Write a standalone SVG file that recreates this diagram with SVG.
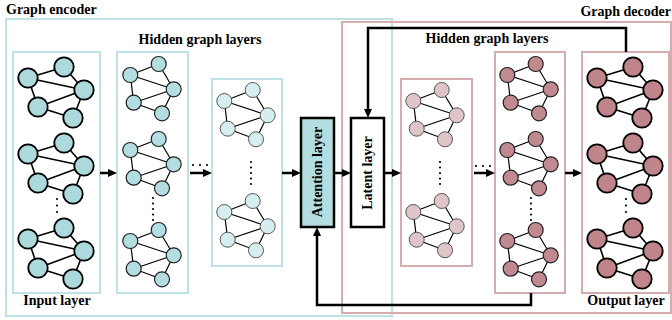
<svg xmlns="http://www.w3.org/2000/svg" xmlns:xlink="http://www.w3.org/1999/xlink" width="672" height="320" viewBox="0 0 672 320">
<style>
.t{font-family:"Liberation Serif","Times New Roman",serif;font-weight:bold;font-size:14px;fill:#000}
.bc{fill:none;stroke:#bfe2e5;stroke-width:2}
.bp{fill:none;stroke:#d5adb1;stroke-width:2}
.in{fill:#acd9dc;stroke:#000;stroke-width:1.8}
.h1e{fill:#b3dde0;stroke:#222;stroke-width:1.2}
.h2e{fill:#d6eef0;stroke:#555;stroke-width:1}
.h1d{fill:#dfc4c8;stroke:#555;stroke-width:1}
.h2d{fill:#c08a90;stroke:#222;stroke-width:1.2}
.out{fill:#bf858a;stroke:#000;stroke-width:1.8}
.ar{fill:none;stroke:#000;stroke-width:2.5}
.dot{fill:#000}
</style>
<defs>
<marker id="ah" markerUnits="userSpaceOnUse" viewBox="0 0 9 8" markerWidth="9" markerHeight="8" refX="4" refY="4" orient="auto">
<path d="M0,0 L9,4 L0,8 z" fill="#000"/>
</marker>
<g id="gi">
<g stroke="#000" stroke-width="1.6">
<line x1="28" y1="78" x2="64" y2="67"/>
<line x1="28" y1="78" x2="84" y2="90"/>
<line x1="28" y1="78" x2="38" y2="107"/>
<line x1="64" y1="67" x2="84" y2="90"/>
<line x1="84" y1="90" x2="38" y2="107"/>
<line x1="38" y1="107" x2="73" y2="118"/>
<line x1="84" y1="90" x2="73" y2="118"/>
</g>
<circle cx="64" cy="67" r="9.7"/>
<circle cx="28" cy="78" r="9.7"/>
<circle cx="84" cy="90" r="9.7"/>
<circle cx="38" cy="107" r="9.7"/>
<circle cx="73" cy="118" r="9.7"/>
</g>
<g id="gh">
<g stroke="#000" stroke-width="1.2">
<line x1="130.3" y1="75" x2="158.7" y2="64"/>
<line x1="130.3" y1="75" x2="173.7" y2="89.3"/>
<line x1="130.3" y1="75" x2="133.7" y2="102.7"/>
<line x1="158.7" y1="64" x2="173.7" y2="89.3"/>
<line x1="173.7" y1="89.3" x2="133.7" y2="102.7"/>
<line x1="133.7" y1="102.7" x2="162" y2="113.3"/>
<line x1="173.7" y1="89.3" x2="162" y2="113.3"/>
</g>
<circle cx="158.7" cy="64" r="7.5"/>
<circle cx="130.3" cy="75" r="7.5"/>
<circle cx="173.7" cy="89.3" r="7.5"/>
<circle cx="133.7" cy="102.7" r="7.5"/>
<circle cx="162" cy="113.3" r="7.5"/>
</g>
<g id="d3">
<circle cx="0" cy="0" r="1.1"/><circle cx="0" cy="6.5" r="1.1"/><circle cx="0" cy="13" r="1.1"/>
</g>
<g id="d5">
<circle cx="0" cy="0" r="1.1"/><circle cx="0" cy="5.5" r="1.1"/><circle cx="0" cy="11" r="1.1"/><circle cx="0" cy="16.5" r="1.1"/><circle cx="0" cy="22" r="1.1"/>
</g>
<g id="h3">
<circle cx="0" cy="0" r="1.1"/><circle cx="7" cy="0" r="1.1"/><circle cx="14" cy="0" r="1.1"/>
</g>
</defs>

<g id="encoder">
<rect class="bc" x="6" y="19" width="386" height="297"/>
<text class="t" x="6" y="14">Graph encoder</text>
<text class="t" x="200" y="44" text-anchor="middle">Hidden graph layers</text>
</g>
<g id="decoder">
<rect class="bp" x="342" y="22" width="329" height="291"/>
<text class="t" x="671" y="16" text-anchor="end">Graph decoder</text>
<text class="t" x="487" y="43" text-anchor="middle">Hidden graph layers</text>
</g>

<g id="input-layer">
<rect class="bc" x="13" y="52" width="87" height="241"/>
<use xlink:href="#gi" class="in"/>
<use xlink:href="#gi" class="in" y="76"/>
<use xlink:href="#gi" class="in" y="161"/>
<use xlink:href="#d3" class="dot" x="57" y="199"/>
<text class="t" x="57" y="305" text-anchor="middle">Input layer</text>
</g>
<g id="enc-hidden-1">
<rect class="bc" x="117" y="52" width="71" height="241"/>
<use xlink:href="#gh" class="h1e"/>
<use xlink:href="#gh" class="h1e" y="75"/>
<use xlink:href="#gh" class="h1e" y="166"/>
<use xlink:href="#d5" class="dot" x="153" y="198"/>
</g>
<g id="enc-hidden-2">
<rect class="bc" x="212" y="79" width="70" height="187"/>
<use xlink:href="#gh" class="h2e" x="94" y="26"/>
<use xlink:href="#gh" class="h2e" x="94" y="137"/>
<use xlink:href="#d5" class="dot" x="251" y="162"/>
</g>
<g id="attention-layer">
<rect x="301" y="118" width="33" height="109" fill="#b3dde0" stroke="#000" stroke-width="2.5"/>
<text class="t" transform="translate(321.5,172) rotate(-90)" text-anchor="middle">Attention layer</text>
</g>
<g id="latent-layer">
<rect x="351" y="118" width="33" height="109" fill="#fff" stroke="#000" stroke-width="2.5"/>
<text class="t" transform="translate(371.5,173) rotate(-90)" text-anchor="middle">Latent layer</text>
</g>
<g id="dec-hidden-1">
<rect class="bp" x="401" y="79" width="71" height="187"/>
<use xlink:href="#gh" class="h1d" x="283" y="26"/>
<use xlink:href="#gh" class="h1d" x="283" y="137"/>
<use xlink:href="#d5" class="dot" x="440" y="162"/>
</g>
<g id="dec-hidden-2">
<rect class="bp" x="495" y="52" width="70" height="241"/>
<use xlink:href="#gh" class="h2d" x="377"/>
<use xlink:href="#gh" class="h2d" x="377" y="75"/>
<use xlink:href="#gh" class="h2d" x="377" y="166"/>
<use xlink:href="#d5" class="dot" x="531" y="198"/>
</g>
<g id="output-layer">
<rect class="bp" x="582" y="52" width="87" height="241"/>
<use xlink:href="#gi" class="out" x="569"/>
<use xlink:href="#gi" class="out" x="569" y="76"/>
<use xlink:href="#gi" class="out" x="569" y="161"/>
<use xlink:href="#d3" class="dot" x="626" y="199"/>
<text class="t" x="626" y="305" text-anchor="middle">Output layer</text>
</g>

<g id="connectors">
<line class="ar" x1="100" y1="173" x2="112" y2="173" marker-end="url(#ah)"/>
<use xlink:href="#h3" class="dot" x="193" y="165"/>
<line class="ar" x1="190" y1="173" x2="207" y2="173" marker-end="url(#ah)"/>
<line class="ar" x1="282" y1="173" x2="296" y2="173" marker-end="url(#ah)"/>
<line class="ar" x1="334" y1="173" x2="346" y2="173" marker-end="url(#ah)"/>
<line class="ar" x1="384" y1="173" x2="396" y2="173" marker-end="url(#ah)"/>
<use xlink:href="#h3" class="dot" x="476" y="166"/>
<line class="ar" x1="474" y1="173" x2="490" y2="173" marker-end="url(#ah)"/>
<line class="ar" x1="565" y1="173" x2="577" y2="173" marker-end="url(#ah)"/>
<polyline class="ar" points="626,52 626,28 368,28 368,113" marker-end="url(#ah)"/>
<polyline class="ar" points="531,293 531,305 317,305 317,232" marker-end="url(#ah)"/>
</g>
</svg>
